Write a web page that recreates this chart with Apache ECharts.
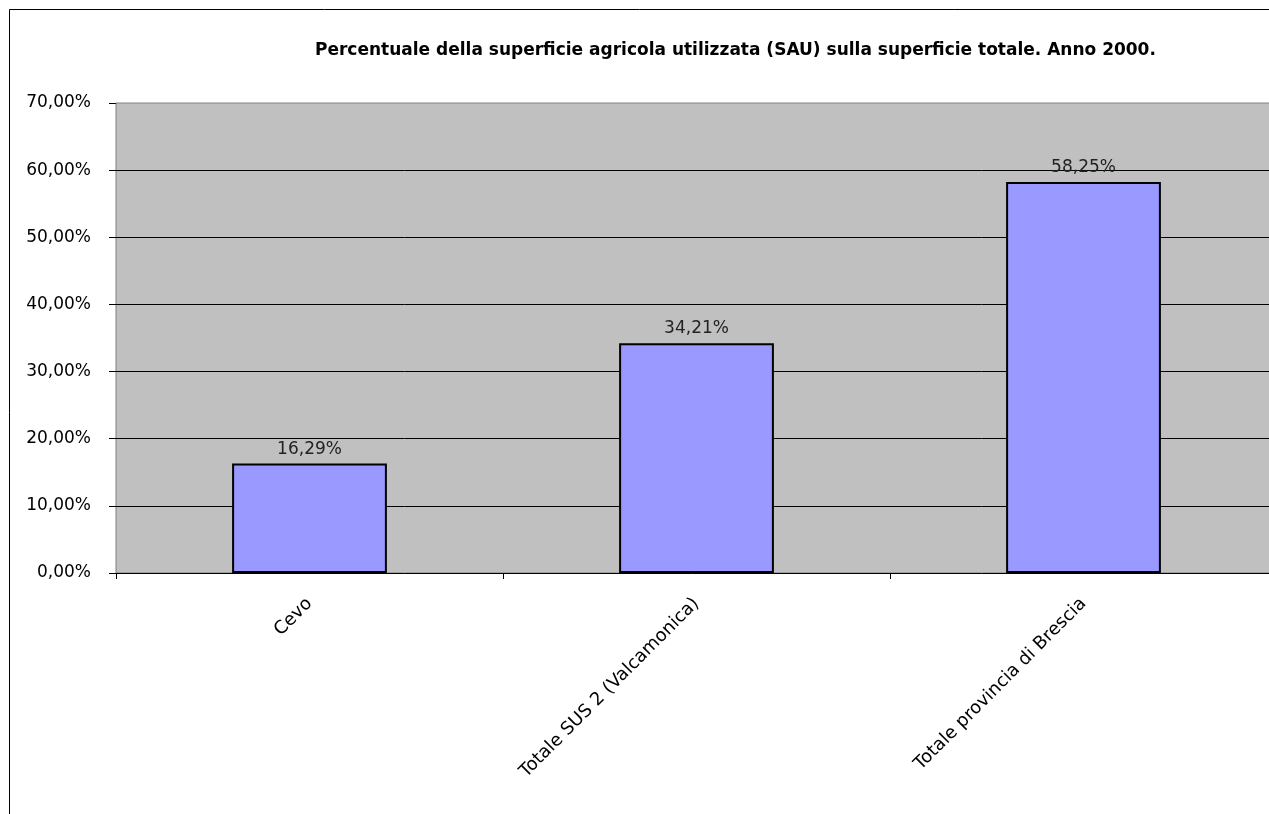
<!DOCTYPE html>
<html>
<head>
<meta charset="utf-8">
<script src="https://cdn.jsdelivr.net/npm/echarts@6/dist/echarts.min.js"></script>
<style>
html,body{margin:0;padding:0;background:#fff;}
#c{width:1269px;height:814px;}
</style>
</head>
<body>
<div id="c"></div>
<script>
const titleText = 'Percentuale della superficie agricola utilizzata (SAU) sulla superficie totale. Anno 2000.';
const categories = ['Cevo', 'Totale SUS 2 (Valcamonica)', 'Totale provincia di Brescia'];
const values = [16.29, 34.21, 58.25];
const yMin = 0, yMax = 70, yStep = 10;

function pct(v) { return v.toFixed(2).replace('.', ',') + '%'; }

const chart = echarts.init(document.getElementById('c'), null, { renderer: 'canvas' });
chart.setOption({
  animation: false,
  backgroundColor: '#ffffff',
  title: {
    text: titleText,
    left: 310, top: 37,
    textStyle: { fontFamily: 'DejaVu Sans', fontWeight: 'bold', fontSize: 17, color: '#000' }
  },
  graphic: [{
    type: 'rect', silent: true,
    shape: { x: 9.5, y: 9.5, width: 1400, height: 1000 },
    style: { fill: 'none', stroke: '#000', lineWidth: 1 }
  }],
  grid: {
    left: 116, top: 103, right: -8, bottom: 241,
    show: true, backgroundColor: '#C0C0C0', borderColor: '#808080', borderWidth: 1,
    containLabel: false, outerBoundsMode: 'none'
  },
  xAxis: {
    type: 'category',
    data: categories,
    axisLine: { show: true, lineStyle: { color: '#000', width: 1 } },
    axisTick: { show: true, alignWithLabel: false, length: 6, lineStyle: { color: '#000' } },
    axisLabel: {
      rotate: 45, margin: 28, interval: 0,
      fontFamily: 'DejaVu Sans', fontSize: 18, color: '#000'
    },
    splitLine: { show: false }
  },
  yAxis: {
    type: 'value',
    min: yMin, max: yMax, interval: yStep,
    axisLine: { show: false },
    axisTick: { show: true, length: 7, lineStyle: { color: '#000' } },
    axisLabel: {
      margin: 25, formatter: v => pct(v),
      fontFamily: 'DejaVu Sans', fontSize: 17, color: '#000'
    },
    splitLine: { show: true, showMinLine: false, showMaxLine: false, lineStyle: { color: '#000', width: 1 } }
  },
  series: [{
    type: 'bar',
    data: values,
    barWidth: '40%',
    itemStyle: { color: '#9999FF', borderColor: '#000', borderWidth: 2 },
    label: {
      show: true, position: 'top', distance: 6,
      formatter: p => pct(p.value),
      fontFamily: 'DejaVu Sans', fontSize: 17, color: '#222'
    }
  }]
});
</script>
</body>
</html>
